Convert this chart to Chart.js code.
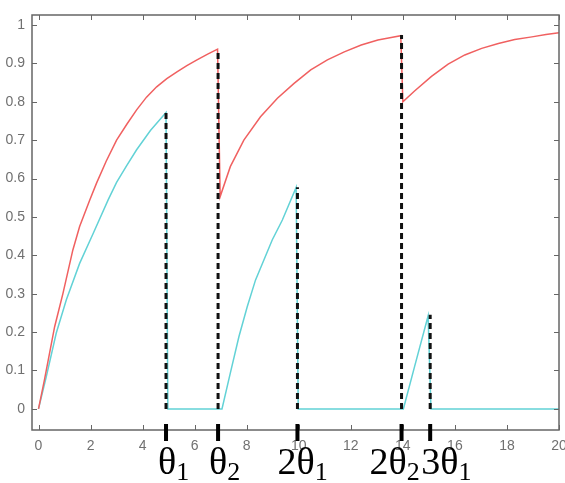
<!DOCTYPE html>
<html>
<head>
<meta charset="utf-8">
<title>Charge / discharge</title>
<script src="https://cdn.jsdelivr.net/npm/chart.js@4/dist/chart.umd.min.js"></script>
<style>
    html, body { margin: 0; padding: 0; background: #fff; }
    canvas { display: block; }
</style>
</head>
<body>
<canvas id="chart" width="565" height="483"></canvas>
<script>
// Axis ticks
const xTicks = [0, 2, 4, 6, 8, 10, 12, 14, 16, 18, 20];
const yTicks = [0, 0.1, 0.2, 0.3, 0.4, 0.5, 0.6, 0.7, 0.8, 0.9, 1];

// Red curve
const redX = [0, 0.23, 0.62, 0.94, 1.32, 1.58, 1.97, 2.23, 2.6, 3.0, 3.4, 3.77, 4.15, 4.54, 4.93, 5.32, 5.7, 6.09, 6.5, 6.88,
              6.98, 7.37, 7.89, 8.53, 9.18, 9.82, 10.46, 11.1, 11.75, 12.4, 13.04, 13.5, 13.92,
              14.0, 14.45, 15.1, 15.74, 16.38, 17.03, 17.67, 18.3, 18.96, 19.5, 20];
const redY = [0, 0.076, 0.214, 0.301, 0.414, 0.475, 0.544, 0.588, 0.645, 0.70, 0.742, 0.779, 0.812, 0.839, 0.86, 0.878, 0.894, 0.909, 0.924, 0.937,
              0.553, 0.631, 0.70, 0.761, 0.809, 0.848, 0.883, 0.909, 0.93, 0.948, 0.961, 0.967, 0.972,
              0.80, 0.828, 0.866, 0.898, 0.922, 0.939, 0.952, 0.962, 0.969, 0.975, 0.98];

// Cyan curve
const cyanX = [0, 0.3, 0.68, 1.07, 1.58, 2.1, 2.68, 3.0, 3.4, 3.77, 4.3, 4.9, 4.97,
               7.05, 7.37, 7.7, 8.02, 8.34, 8.66, 8.98, 9.37, 9.9, 9.98,
               14.02, 14.45, 14.97, 15.08, 20];
const cyanY = [0, 0.084, 0.197, 0.284, 0.379, 0.457, 0.545, 0.59, 0.635, 0.675, 0.725, 0.772, 0,
               0, 0.093, 0.188, 0.266, 0.336, 0.388, 0.44, 0.492, 0.577, 0,
               0, 0.11, 0.242, 0, 0];

// Switching instants (dashed markers)
const markerX = [4.9, 6.9, 9.95, 13.95, 15.05];
const markerTop = [0.774, 0.937, 0.577, 0.974, 0.245];
const markerLabels = ['θ1', 'θ2', '2θ1', '2θ2', '3θ1'];

// label placement relative to the marker (px)
const labelShift = [-8, -9, -20, -32, -9];

function toPoints(xs, ys) {
    return xs.map((x, i) => ({ x: x, y: ys[i] }));
}

// vertical segments separated by gaps
const dashedPoints = [];
markerX.forEach((x, i) => {
    dashedPoints.push({ x: x, y: 0 });
    dashedPoints.push({ x: x, y: markerTop[i] });
    dashedPoints.push({ x: x, y: null });
});

// Frame, inward ticks, theta markers
const framePlugin = {
    id: 'frame',
    afterDraw(chart) {
        const ctx = chart.ctx;
        const area = chart.chartArea;
        const xs = chart.scales.x;
        const ys = chart.scales.y;
        const tick = 5;

        ctx.save();
        ctx.strokeStyle = '#666';
        ctx.lineWidth = 1.5;
        ctx.strokeRect(area.left, area.top, area.right - area.left, area.bottom - area.top);

        ctx.lineWidth = 1;
        ctx.beginPath();
        xTicks.forEach(v => {
            const px = Math.round(xs.getPixelForValue(v)) + 0.5;
            ctx.moveTo(px, area.bottom);
            ctx.lineTo(px, area.bottom - tick);
            ctx.moveTo(px, area.top);
            ctx.lineTo(px, area.top + tick);
        });
        yTicks.forEach(v => {
            const py = Math.round(ys.getPixelForValue(v)) + 0.5;
            ctx.moveTo(area.left, py);
            ctx.lineTo(area.left + tick, py);
            ctx.moveTo(area.right, py);
            ctx.lineTo(area.right - tick, py);
        });
        ctx.stroke();

        // thick markers across the x axis
        ctx.strokeStyle = '#000';
        ctx.lineWidth = 4;
        ctx.beginPath();
        markerX.forEach(v => {
            const px = xs.getPixelForValue(v);
            ctx.moveTo(px, area.bottom - 6);
            ctx.lineTo(px, area.bottom + 11);
        });
        ctx.stroke();

        // theta labels
        ctx.fillStyle = '#000';
        ctx.textBaseline = 'alphabetic';
        ctx.textAlign = 'left';
        markerLabels.forEach((label, i) => {
            const main = label.slice(0, -1);
            const sub = label.slice(-1);
            let px = xs.getPixelForValue(markerX[i]) + labelShift[i];
            ctx.font = '38px "Liberation Serif", "DejaVu Serif", serif';
            ctx.fillText(main, px, area.bottom + 44);
            px += ctx.measureText(main).width;
            ctx.font = '26px "Liberation Serif", "DejaVu Serif", serif';
            ctx.fillText(sub, px, area.bottom + 50);
        });
        ctx.restore();
    }
};

const ctx = document.getElementById('chart').getContext('2d');

new Chart(ctx, {
    type: 'line',
    data: {
        datasets: [
            {
                label: 'markers',
                data: dashedPoints,
                borderColor: '#111',
                borderWidth: 3,
                borderDash: [6, 4],
                pointRadius: 0,
                spanGaps: false
            },
            {
                label: 'red',
                data: toPoints(redX, redY),
                borderColor: '#f06060',
                borderWidth: 1.5,
                pointRadius: 0,
                tension: 0
            },
            {
                label: 'cyan',
                data: toPoints(cyanX, cyanY),
                borderColor: '#62d2d6',
                borderWidth: 1.5,
                pointRadius: 0,
                tension: 0
            }
        ]
    },
    options: {
        responsive: false,
        animation: false,
        layout: {
            padding: { left: 0, right: 6, top: 15, bottom: 0 }
        },
        plugins: {
            legend: { display: false },
            tooltip: { enabled: false }
        },
        scales: {
            x: {
                type: 'linear',
                min: -0.25,
                max: 20,
                afterBuildTicks: (scale) => {
                    scale.ticks = xTicks.map(v => ({ value: v }));
                },
                afterFit: (scale) => {
                    scale.height = 53;
                    scale.paddingLeft = 0;
                    scale.paddingRight = 0;
                },
                grid: { display: false, drawTicks: false },
                border: { display: false },
                ticks: {
                    color: '#707070',
                    font: { family: '"Liberation Sans", Arial, sans-serif', size: 14 },
                    padding: 8,
                    maxRotation: 0,
                    autoSkip: false
                }
            },
            y: {
                type: 'linear',
                min: -0.055,
                max: 1.026,
                afterBuildTicks: (scale) => {
                    scale.ticks = yTicks.map(v => ({ value: v }));
                },
                afterFit: (scale) => {
                    scale.width = 32;
                    scale.paddingTop = 0;
                    scale.paddingBottom = 0;
                },
                grid: { display: false, drawTicks: false },
                border: { display: false },
                ticks: {
                    color: '#707070',
                    font: { family: '"Liberation Sans", Arial, sans-serif', size: 14 },
                    padding: 7,
                    callback: (v) => String(Number(v.toFixed(1)))
                }
            }
        }
    },
    plugins: [framePlugin]
});
</script>
</body>
</html>
